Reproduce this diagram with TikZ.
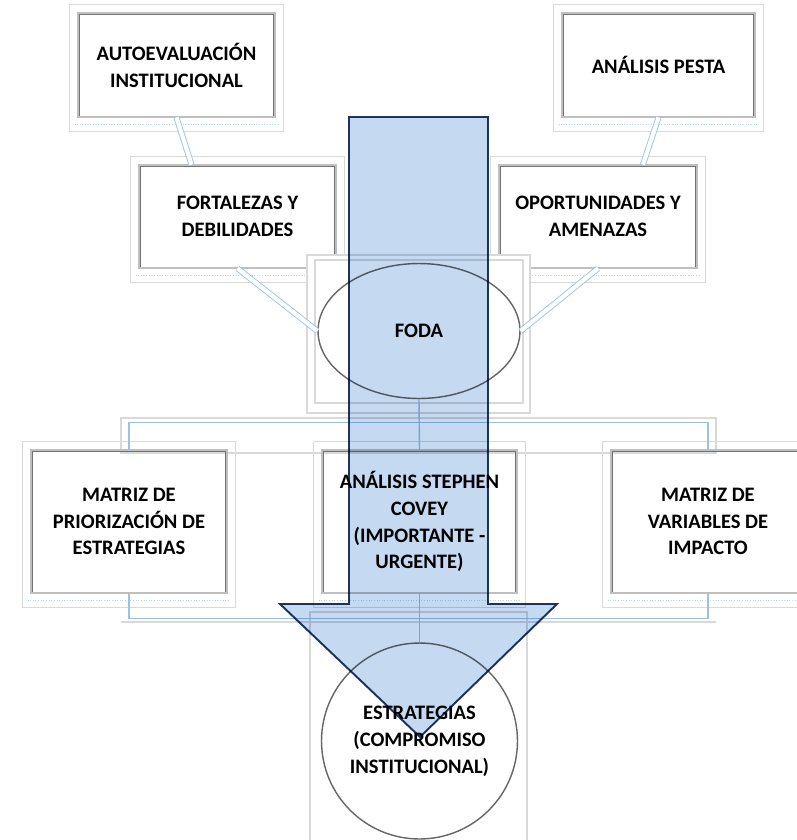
\documentclass[tikz,border=0pt]{standalone}
\usepackage{fontspec}
\setmainfont{Carlito}
\usetikzlibrary{shapes.geometric}

\definecolor{azulflecha}{RGB}{197,217,241}
\definecolor{bordeflecha}{RGB}{31,56,100}
\definecolor{azulrama}{RGB}{155,194,230}

\tikzset{
  caja/.style={rectangle, draw=black!55, double=black!25, double distance=0.7pt,
    line width=0.5pt, align=center, font=\fontsize{11.7}{15.3}\selectfont\bfseries},
  ovalo/.style={ellipse, draw=black!60, line width=0.8pt, align=center,
    font=\fontsize{11.7}{15.3}\selectfont\bfseries},
  marco/.style={draw=black!15, line width=0.6pt},
  puntos/.style={draw=azulrama!70, densely dotted, line width=0.5pt},
  cinta/.style={draw=azulrama, double=white, double distance=2.4pt, line width=0.5pt},
  rama/.style={draw=azulrama, line width=0.8pt},
  flecha/.style={fill=azulflecha, draw=bordeflecha, line width=1.1pt, line join=miter, blend mode=multiply}
}

\newcommand{\marcocaja}[1]{%
  \draw[marco] ([shift={(-8,-8)}]#1.north west) rectangle ([shift={(8,14)}]#1.south east);
  \draw[puntos] ([shift={(-3,7)}]#1.south west) -- ([shift={(3,7)}]#1.south east);}

\begin{document}
\begin{tikzpicture}[x=0.02cm, y=-0.02cm]
    \clip (0,0) rectangle (797,840);
    \fill[white] (0,0) rectangle (797,840);

    % diagnostico
    \node[caja, minimum width=3.94cm, minimum height=2.08cm] (auto) at (176.5,65) {AUTOEVALUACIÓN\\INSTITUCIONAL};
    \node[caja, minimum width=3.86cm, minimum height=2.08cm] (pesta) at (658.5,65) {ANÁLISIS PESTA};
    \node[caja, minimum width=3.94cm, minimum height=2.06cm] (fort) at (237.5,216.5) {FORTALEZAS Y\\DEBILIDADES};
    \node[caja, minimum width=3.96cm, minimum height=2.06cm] (opor) at (598,216.5) {OPORTUNIDADES Y\\AMENAZAS};
    \marcocaja{auto}
    \marcocaja{pesta}
    \marcocaja{fort}
    \marcocaja{opor}

    % FODA
    \filldraw[marco, fill=white] (307,255) rectangle (530,413);
    \draw[marco] (315,260) rectangle (523,403);
    \node[ovalo, minimum width=4.04cm, minimum height=2.7cm] (foda) at (419,331) {FODA};

    \draw[cinta] (auto.south) -- ([shift={(-46,0)}]fort.north);
    \draw[cinta] (pesta.south) -- ([shift={(45,0)}]opor.north);
    \draw[cinta] (fort.south) -- (foda.west);
    \draw[cinta] (opor.south) -- (foda.east);

    % herramientas
    \draw[marco] (121,418) rectangle (716,453);
    \node[caja, minimum width=3.92cm, minimum height=2.86cm] (matriz) at (129,521.5) {MATRIZ DE\\PRIORIZACIÓN DE\\ESTRATEGIAS};
    \node[caja, minimum width=3.9cm, minimum height=2.86cm] (covey) at (419.5,521.5) {ANÁLISIS STEPHEN\\COVEY\\(IMPORTANTE -\\URGENTE)};
    \node[caja, minimum width=3.88cm, minimum height=2.86cm] (impacto) at (708,521.5) {MATRIZ DE\\VARIABLES DE\\IMPACTO};
    \marcocaja{matriz}
    \marcocaja{covey}
    \marcocaja{impacto}
    \draw[marco] (121,622) -- (716,622);

    % resultado
    \draw[marco] (310,612) rectangle (527,850);
    \node[ovalo, circle, minimum size=3.92cm] (estrat) at (419.5,741) {ESTRATEGIAS\\(COMPROMISO\\INSTITUCIONAL)};

    \draw[rama] (foda.south) -- (covey.north);
    \draw[rama] (matriz.north) -- ++(0,-27) -| (impacto.north);
    \draw[rama] (matriz.south) -- ++(0,25) -| (impacto.south);
    \draw[rama] (covey.south) -- (estrat.north);

    % flecha
    \draw[flecha] (349,117) -- (488,117) -- (488,604) -- (557,604) -- (420,737) -- (280,604) -- (349,604) -- cycle;

\end{tikzpicture}
\end{document}
